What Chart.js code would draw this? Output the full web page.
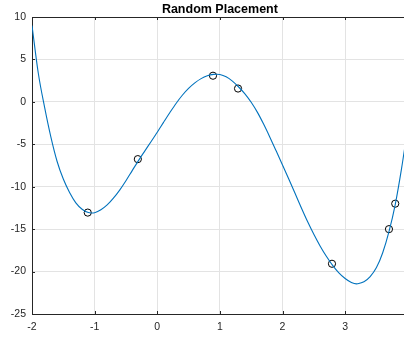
<!DOCTYPE html>
<html>
<head>
<meta charset="utf-8">
<script src="https://cdn.jsdelivr.net/npm/chart.js@4/dist/chart.umd.min.js"></script>
<style>
  html, body { margin: 0; padding: 0; background: #fff; overflow: hidden; }
  canvas { display: block; }
</style>
</head>
<body>
<canvas id="plot" width="404" height="339"></canvas>
<script>
// fitted curve
const curveX = [-2.0, -1.9, -1.8, -1.7, -1.6, -1.5, -1.4, -1.3, -1.2, -1.1, -1.05, -1.0, -0.9, -0.8, -0.7, -0.6, -0.5, -0.4, -0.3, -0.2, -0.1,
                0.0, 0.1, 0.2, 0.3, 0.4, 0.5, 0.6, 0.7, 0.8, 0.9, 0.95, 1.0, 1.1, 1.2, 1.3, 1.4, 1.5, 1.6, 1.7, 1.8, 1.9,
                2.0, 2.1, 2.2, 2.3, 2.4, 2.5, 2.6, 2.7, 2.8, 2.9, 3.0, 3.1, 3.18, 3.2, 3.3, 3.4, 3.5, 3.6, 3.7, 3.8, 3.9, 4.0];
const curveY = [9.0, 3.4, -0.6, -4.1, -7.0, -9.1, -10.68, -11.9, -12.65, -13.05, -13.1, -13.06, -12.72, -12.15, -11.35, -10.4, -9.3, -8.1, -6.92, -5.8, -4.7,
                -3.58, -2.42, -1.28, -0.19, 0.78, 1.59, 2.24, 2.74, 3.07, 3.24, 3.26, 3.23, 2.95, 2.45, 1.75, 0.95, -0.05, -1.24, -2.65, -4.19, -5.8,
                -7.44, -9.1, -10.78, -12.48, -14.11, -15.61, -16.98, -18.2, -19.26, -20.14, -20.81, -21.28, -21.45, -21.44, -21.21, -20.6, -19.53, -17.78, -15.3, -12.1, -7.9, -3.0];

// sample points (circles)
const sampleX = [-1.11, -0.31, 0.89, 1.29, 2.79, 3.70, 3.80];
const sampleY = [-13.05, -6.75, 3.08, 1.57, -19.08, -15.0, -12.0];

const xTicks = [-2, -1, 0, 1, 2, 3];
const yTicks = [-25, -20, -15, -10, -5, 0, 5, 10];
const xLimits = [-2, 3.94];   // axes run to x = 4, the window cuts them at about 3.94
const yLimits = [-25, 10];
const chartTitle = 'Random Placement';

const axisColor = '#262626';
const gridColor = '#e3e3e3';
const fontFamily = 'Arial, "Liberation Sans", Helvetica, sans-serif';

// MATLAB-like title, top border and inward tick marks
const matlabDecor = {
    id: 'matlabDecor',
    afterDraw(chart) {
        const { ctx, chartArea, scales } = chart;
        ctx.save();
        ctx.strokeStyle = axisColor;
        ctx.lineWidth = 1;
        ctx.beginPath();
        ctx.moveTo(chartArea.left, chartArea.top + 0.5);
        ctx.lineTo(chartArea.right, chartArea.top + 0.5);
        xTicks.forEach(v => {
            const px = Math.round(scales.x.getPixelForValue(v)) + 0.5;
            ctx.moveTo(px, chartArea.bottom);
            ctx.lineTo(px, chartArea.bottom - 3);
            ctx.moveTo(px, chartArea.top);
            ctx.lineTo(px, chartArea.top + 3);
        });
        yTicks.forEach(v => {
            const py = Math.round(scales.y.getPixelForValue(v)) + 0.5;
            ctx.moveTo(chartArea.left, py);
            ctx.lineTo(chartArea.left + 3, py);
        });
        ctx.stroke();

        // title is centred over the full axes box (x = -2 .. 4)
        const cx = (scales.x.getPixelForValue(-2) + scales.x.getPixelForValue(4)) / 2;
        ctx.fillStyle = '#000';
        ctx.font = 'bold 12.5px ' + fontFamily;
        ctx.textAlign = 'center';
        ctx.textBaseline = 'alphabetic';
        ctx.fillText(chartTitle, cx, 12.5);
        ctx.restore();
    }
};

const ctx = document.getElementById('plot').getContext('2d');
new Chart(ctx, {
    type: 'scatter',
    data: {
        datasets: [
            {
                label: 'fit',
                data: curveX.map((x, i) => ({ x: x, y: curveY[i] })),
                showLine: true,
                borderColor: '#0072BD',
                borderWidth: 1.1,
                pointRadius: 0,
                cubicInterpolationMode: 'monotone',
                fill: false
            },
            {
                label: 'points',
                data: sampleX.map((x, i) => ({ x: x, y: sampleY[i] })),
                showLine: false,
                pointStyle: 'circle',
                pointRadius: 3.6,
                borderColor: '#000',
                borderWidth: 1,
                backgroundColor: 'rgba(0,0,0,0)'
            }
        ]
    },
    options: {
        responsive: false,
        animation: false,
        layout: { autoPadding: false, padding: { top: 17, right: 0, left: 0, bottom: 0 } },
        plugins: {
            legend: { display: false },
            title: { display: false },
            tooltip: { enabled: false }
        },
        scales: {
            x: {
                type: 'linear',
                min: xLimits[0],
                max: xLimits[1],
                afterFit: scale => {
                    scale.height = 25;
                    scale.paddingLeft = 0;
                    scale.paddingRight = 0;
                },
                afterBuildTicks: scale => { scale.ticks = xTicks.map(v => ({ value: v })); },
                grid: { color: gridColor, drawTicks: false },
                border: { color: axisColor, width: 1 },
                ticks: {
                    autoSkip: false,
                    maxRotation: 0,
                    padding: 7,
                    color: axisColor,
                    font: { family: fontFamily, size: 10.5 },
                    callback: v => String(v)
                }
            },
            y: {
                type: 'linear',
                min: yLimits[0],
                max: yLimits[1],
                afterFit: scale => {
                    scale.width = 32;
                    scale.paddingTop = 0;
                    scale.paddingBottom = 0;
                },
                afterBuildTicks: scale => { scale.ticks = yTicks.map(v => ({ value: v })); },
                grid: { color: gridColor, drawTicks: false },
                border: { color: axisColor, width: 1 },
                ticks: {
                    autoSkip: false,
                    padding: 6,
                    color: axisColor,
                    font: { family: fontFamily, size: 10.5 },
                    callback: v => String(v)
                }
            }
        }
    },
    plugins: [matlabDecor]
});
</script>
</body>
</html>
